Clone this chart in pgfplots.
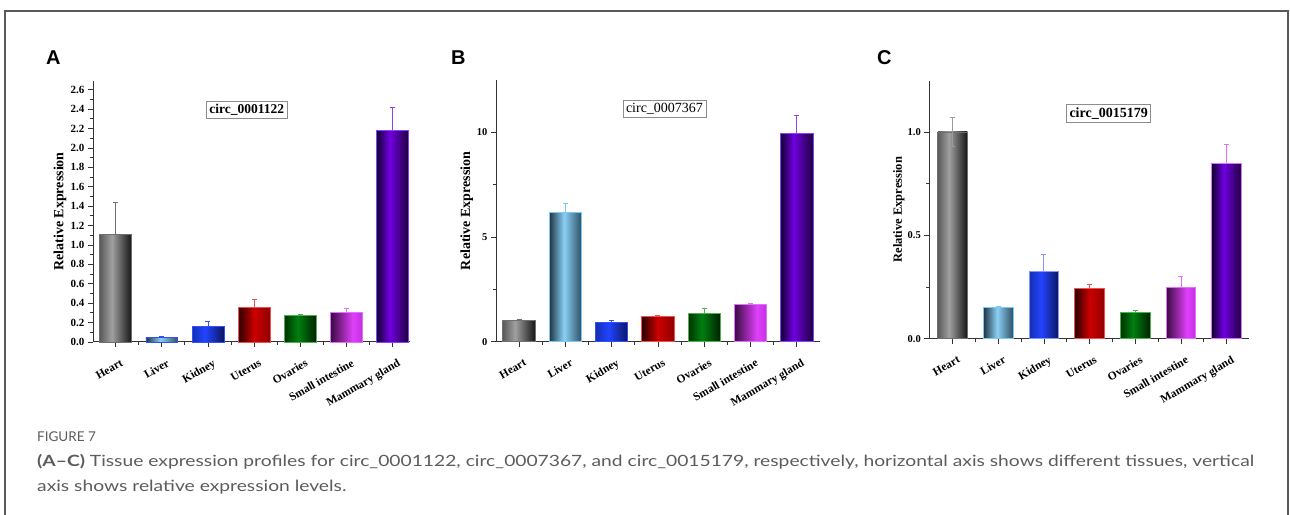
\documentclass[border=0pt]{standalone}
\usepackage{pgfplots}
\pgfplotsset{compat=1.18}
\usepackage{fontspec}
\usepackage{graphicx}
\setmainfont{Liberation Serif}
\newfontfamily\capfont{Lato}
\newfontfamily\lettfont{Liberation Sans}

% bar shading colours
\definecolor{hL}{HTML}{5A5A5A}\definecolor{hM}{HTML}{A0A0A0}\definecolor{hR}{HTML}{151515}
\definecolor{lL}{HTML}{1E3442}\definecolor{lM}{HTML}{8AD0F5}\definecolor{lR}{HTML}{2E5064}
\definecolor{kL}{HTML}{1430B0}\definecolor{kM}{HTML}{2244FF}\definecolor{kR}{HTML}{0A1660}
\definecolor{uL}{HTML}{2A0000}\definecolor{uM}{HTML}{CC0000}\definecolor{uR}{HTML}{900000}
\definecolor{oL}{HTML}{003200}\definecolor{oM}{HTML}{008010}\definecolor{oR}{HTML}{002200}
\definecolor{sL}{HTML}{3A0A40}\definecolor{sM}{HTML}{E040FB}\definecolor{sR}{HTML}{C030E0}
\definecolor{mL}{HTML}{100030}\definecolor{mM}{HTML}{7000E0}\definecolor{mR}{HTML}{1E003C}
% outlines / error bars
\definecolor{hO}{HTML}{707070}\definecolor{lO}{HTML}{7EC8F5}\definecolor{kO}{HTML}{3050FF}
\definecolor{uO}{HTML}{F05050}\definecolor{oO}{HTML}{50B050}\definecolor{sO}{HTML}{E070FF}
\definecolor{mO}{HTML}{8A40FF}
\definecolor{capgray}{HTML}{5C5C5C}

\pgfdeclarehorizontalshading{shH}{100bp}{color(0bp)=(hL); color(25bp)=(hL); color(44bp)=(hM); color(75bp)=(hR); color(100bp)=(hR)}
\pgfdeclarehorizontalshading{shL}{100bp}{color(0bp)=(lL); color(25bp)=(lL); color(48bp)=(lM); color(75bp)=(lR); color(100bp)=(lR)}
\pgfdeclarehorizontalshading{shK}{100bp}{color(0bp)=(kL); color(25bp)=(kL); color(45bp)=(kM); color(75bp)=(kR); color(100bp)=(kR)}
\pgfdeclarehorizontalshading{shU}{100bp}{color(0bp)=(uL); color(25bp)=(uL); color(50bp)=(uM); color(75bp)=(uR); color(100bp)=(uR)}
\pgfdeclarehorizontalshading{shO}{100bp}{color(0bp)=(oL); color(25bp)=(oL); color(46bp)=(oM); color(75bp)=(oR); color(100bp)=(oR)}
\pgfdeclarehorizontalshading{shS}{100bp}{color(0bp)=(sL); color(25bp)=(sL); color(60bp)=(sM); color(75bp)=(sR); color(100bp)=(sR)}
\pgfdeclarehorizontalshading{shM}{100bp}{color(0bp)=(mL); color(25bp)=(mL); color(45bp)=(mM); color(75bp)=(mR); color(100bp)=(mR)}

% one bar: x, y, err, shading, outline colour
\newcommand{\mybar}[5]{\addplot[ybar, bar shift=0pt, shading=#4, draw=#5, line width=0.7pt,
  error bars/.cd, y dir=plus, y explicit,
  error bar style={line width=0.9pt, color=#5},
  error mark options={rotate=90, mark size=2.5pt, line width=0.9pt, color=#5}]
  coordinates {(#1,#2) +- (0,#3)};}

\pgfplotsset{
  panel/.style={
    scale only axis, anchor=south west, clip=false,
    axis x line*=bottom, axis y line*=left,
    axis line style={line width=1pt, color=black!80, -},
    tick align=outside,
    every tick/.style={line width=0.8pt, color=black!80},
    major tick length=5pt, minor tick length=3pt,
    ymin=0,
    xtick={0,...,6},
    xticklabels={Heart,Liver,Kidney,Uterus,Ovaries,Small intestine,Mammary gland},
    minor xtick={0.5,1.5,...,5.5},
    xticklabel style={rotate=30, anchor=north east, inner sep=1pt, xshift=-1pt, yshift=-11pt,
      font=\bfseries\fontsize{11.5}{11.5}\selectfont},
    /pgf/number format/assume math mode=true,
    scaled y ticks=false,
    minor y tick num=1,
    ylabel={Relative Expression},
  },
}

\newsavebox\capbox
\newcommand{\capline}{\capfont\fontsize{15.5}{15.5}\selectfont\textbf{(A–C)} Tissue expression profiles for circ\_0001122, circ\_0007367, and circ\_0015179, respectively, horizontal axis shows different tissues, vertical}

\begin{document}
\sbox\capbox{\capline}%
\edef\capw{\the\wd\capbox}%
\pgfmathsetmacro\capfac{1217/\capw}%
\begin{tikzpicture}
\useasboundingbox (0,0) rectangle (1290pt,514pt);
\draw[black!65, line width=1.2pt] (5pt,-3pt) -- (5pt,503pt) -- (1288pt,503pt) -- (1288pt,-3pt);

% panel letters
\node[anchor=base west, inner sep=0] at (46pt,449pt) {\lettfont\bfseries\fontsize{20}{20}\selectfont A};
\node[anchor=base west, inner sep=0] at (451pt,449pt) {\lettfont\bfseries\fontsize{20}{20}\selectfont B};
\node[anchor=base west, inner sep=0] at (877pt,449pt) {\lettfont\bfseries\fontsize{20}{20}\selectfont C};

% ---------------- A ----------------
\begin{axis}[panel, at={(93pt,172pt)}, width=317pt, height=261pt,
  xmin=-0.49, xmax=6.375, ymax=2.69, bar width=0.69,
  ytick={0,0.2,...,2.6},
  yticklabel style={font=\bfseries\fontsize{11}{11}\selectfont,
    /pgf/number format/.cd, fixed, fixed zerofill, precision=1},
  ylabel style={at={(axis description cs:-0.104,0.5)}, anchor=center,
    font=\bfseries\fontsize{14}{14}\selectfont}]
\mybar{0}{1.11}{0.33}{shH}{hO}
\mybar{1}{0.05}{0.005}{shL}{kO}
\mybar{2}{0.16}{0.05}{shK}{kO}
\mybar{3}{0.355}{0.085}{shU}{uO}
\mybar{4}{0.275}{0.01}{shO}{oO}
\mybar{5}{0.305}{0.04}{shS}{sO}
\mybar{6}{2.18}{0.24}{shM}{mO}
\node[draw=black!45, line width=0.8pt, fill=white, inner sep=3pt, font=\bfseries\fontsize{13.5}{13.5}\selectfont]
  at (axis description cs:0.485,0.89) {circ\_0001122};
\end{axis}

% ---------------- B ----------------
\begin{axis}[panel, at={(496pt,172.3pt)}, width=324pt, height=261.7pt,
  xmin=-0.497, xmax=6.5, ymax=12.5, bar width=0.7,
  ytick={0,5,10},
  yticklabel style={font=\bfseries\fontsize{10.5}{10.5}\selectfont},
  ylabel style={at={(axis description cs:-0.0905,0.5)}, anchor=center,
    font=\bfseries\fontsize{14}{14}\selectfont}]
\mybar{0}{1.0}{0.04}{shH}{hO}
\mybar{1}{6.16}{0.46}{shL}{lO}
\mybar{2}{0.94}{0.06}{shK}{kO}
\mybar{3}{1.19}{0.08}{shU}{uO}
\mybar{4}{1.37}{0.22}{shO}{oO}
\mybar{5}{1.78}{0.06}{shS}{sO}
\mybar{6}{9.95}{0.85}{shM}{mO}
\node[draw=black!45, line width=0.8pt, fill=white, inner sep=3pt, font=\fontsize{14}{14}\selectfont]
  at (axis description cs:0.52,0.89) {circ\_0007367};
\end{axis}

% ---------------- C ----------------
\begin{axis}[panel, at={(929.3pt,175.3pt)}, width=319.7pt, height=258pt,
  xmin=-0.51, xmax=6.49, ymax=1.248, bar width=0.65,
  ytick={0,0.5,1},
  yticklabel style={font=\bfseries\fontsize{10.5}{10.5}\selectfont,
    /pgf/number format/.cd, fixed, fixed zerofill, precision=1},
  ylabel style={at={(axis description cs:-0.095,0.5)}, anchor=center,
    font=\bfseries\fontsize{12.5}{12.5}\selectfont}]
\addplot[ybar, bar shift=0pt, shading=shH, draw=hO, line width=0.7pt,
  error bars/.cd, y dir=both, y explicit,
  error bar style={line width=0.9pt, color=hO!70},
  error mark options={rotate=90, mark size=2.5pt, line width=0.9pt, color=hO!70}]
  coordinates {(0,1.0) +- (0,0.07)};
\mybar{1}{0.152}{0.002}{shL}{lO}
\mybar{2}{0.326}{0.08}{shK}{kO!60}
\mybar{3}{0.242}{0.022}{shU}{uO}
\mybar{4}{0.127}{0.01}{shO}{oO}
\mybar{5}{0.25}{0.051}{shS}{sO}
\mybar{6}{0.848}{0.093}{shM}{sO}
\node[draw=black!45, line width=0.8pt, fill=white, inner sep=3pt, font=\bfseries\fontsize{14}{14}\selectfont]
  at (axis description cs:0.561,0.874) {circ\_0015179};
\end{axis}

% ---------------- caption ----------------
\node[anchor=base west, inner sep=0, text=capgray] at (37pt,72pt)
  {\capfont\fontsize{13.5}{13.5}\selectfont FIGURE 7};
\node[anchor=base west, inner sep=0, text=capgray] at (37pt,47pt)
  {\scalebox{\capfac}[1]{\capline}};
\node[anchor=base west, inner sep=0, text=capgray] at (37pt,23pt)
  {\scalebox{\capfac}[1]{\capfont\fontsize{15.5}{15.5}\selectfont axis shows relative expression levels.}};
\end{tikzpicture}
\end{document}
